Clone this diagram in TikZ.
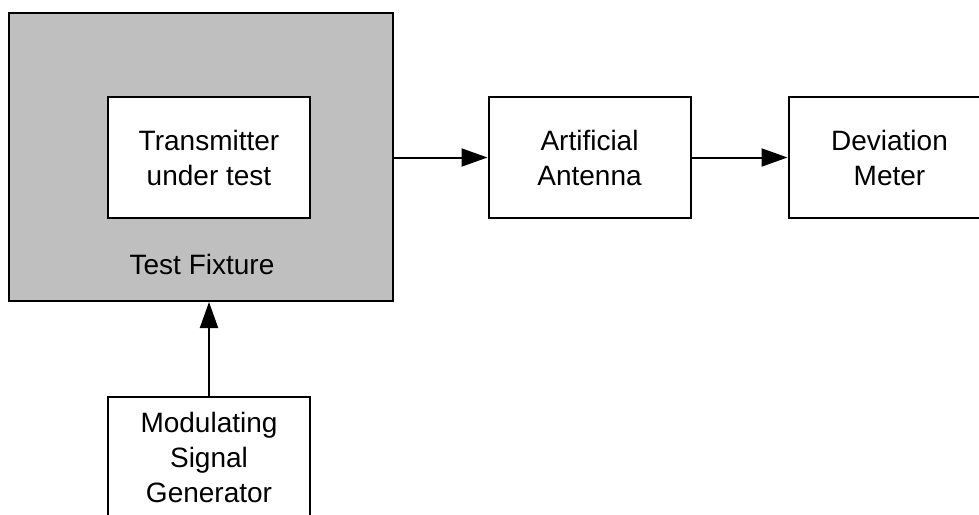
\documentclass[tikz,border=0pt]{standalone}
\usepackage{fontspec}
\setmainfont{Liberation Sans}
\usetikzlibrary{arrows.meta,positioning}

\begin{document}
\begin{tikzpicture}
  [x=0.5pt,y=-0.5pt,line width=1pt,
  % Styles
  block/.style={draw,fill=white,minimum width=101pt,minimum height=60.5pt,
    align=center,font=\fontsize{14pt}{17.5pt}\selectfont,inner sep=0pt},
  fixture/.style={draw,fill=fixturegray,minimum width=192pt,minimum height=144pt},
  signal line/.style={-{Triangle[length=13pt,width=9pt]}}]
  % Colors
  \colorlet{fixturegray}{black!25}
  % The graphic
  \clip (0,0) rectangle (979,514);
  \node[fixture] (fix) at (201,157) {};
  \node[block] (tx) at (209,157.5) {Transmitter\\under test};
  \node[font=\fontsize{14pt}{17.5pt}\selectfont] (fixlabel) at (202,264) {Test Fixture};
  \node[block] (ant) at (589.5,157.5) {Artificial\\Antenna};
  \node[block] (dev) at (889.5,157.5) {Deviation\\Meter};
  \node[block] (gen) at (209,457.5) {Modulating\\Signal\\Generator};
  % Connectors
  \draw[signal line] (fix.east |- ant.west) -- (ant.west);
  \draw[signal line] (ant) -- (dev);
  \draw[signal line] (gen.north) -- (gen.north |- fix.south);
\end{tikzpicture}
\end{document}
